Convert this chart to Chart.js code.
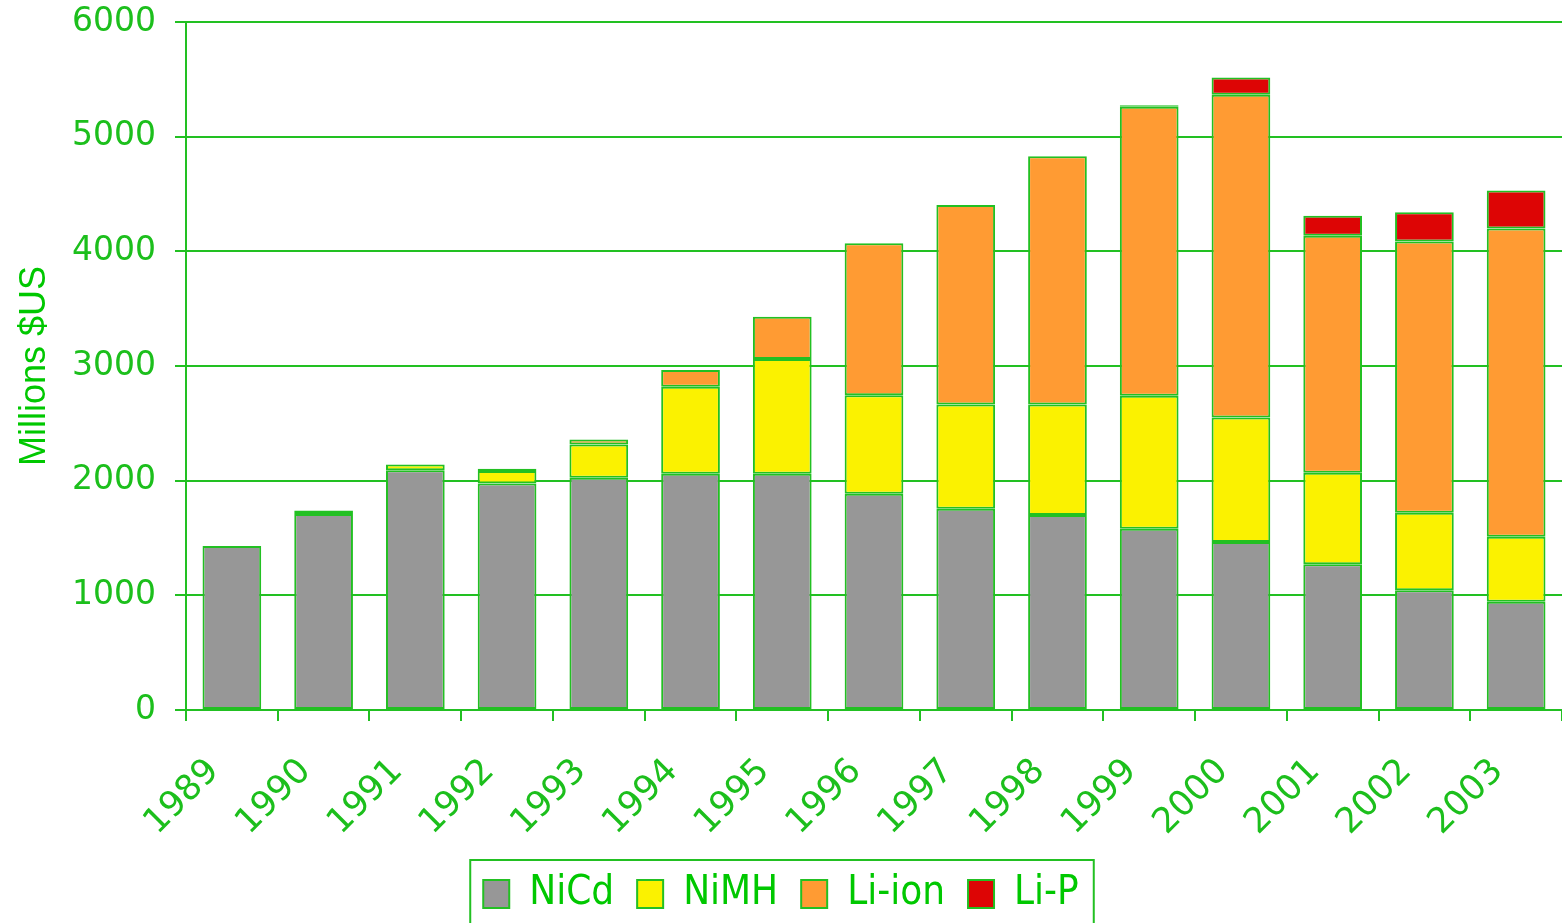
<!DOCTYPE html>
<html>
<head>
<meta charset="utf-8">
<title>Battery market 1989-2003</title>
<script src="https://cdn.jsdelivr.net/npm/chart.js@4"></script>
<style>
  html, body { margin: 0; padding: 0; background: #fff; }
  #wrap { width: 1562px; height: 923px; }
</style>
</head>
<body>
<div id="wrap"><canvas id="grafico"></canvas></div>
<script>
// dados (milhões de US$)
const anos = ['1989', '1990', '1991', '1992', '1993', '1994', '1995', '1996', '1997', '1998', '1999', '2000', '2001', '2002', '2003'];
const nicd = [1430, 1710, 2090, 1975, 2025, 2060, 2060, 1885, 1755, 1700, 1580, 1465, 1270, 1045, 945];
const nimh = [null, 30, 50, 110, 290, 760, 1000, 860, 910, 965, 1160, 1085, 800, 675, 565];
const liion = [null, null, null, 20, 45, 145, 370, 1325, 1740, 2165, 2520, 2815, 2065, 2365, 2690];
const lip = [null, null, null, null, null, null, null, null, null, null, 15, 150, 175, 255, 330];
const yTicks = [0, 1000, 2000, 3000, 4000, 5000, 6000];

const verde = '#22c022';
const verdeTexto = '#1cbf1c';

// moldura da legenda
const bordaLegenda = {
    id: 'bordaLegenda',
    afterDraw(chart) {
        const boxes = chart.legend.legendHitBoxes;
        if (!boxes || !boxes.length) return;
        const left = Math.min(...boxes.map(b => b.left)) - 13;
        const right = Math.max(...boxes.map(b => b.left + b.width)) + 15;
        const top = boxes[0].top - 14;
        const ctx = chart.ctx;
        ctx.save();
        ctx.strokeStyle = verde;
        ctx.lineWidth = 2;
        ctx.strokeRect(left, top, right - left, chart.height - top + 10);
        ctx.restore();
    }
};

function serie(label, data, cor) {
    return {
        label: label,
        data: data,
        backgroundColor: cor,
        borderColor: verde,
        borderWidth: 2,
        borderSkipped: false,
        categoryPercentage: 1,
        barPercentage: 0.64
    };
}

const ctx = document.getElementById('grafico').getContext('2d');
new Chart(ctx, {
    type: 'bar',
    data: {
        labels: anos,
        datasets: [
            serie('NiCd', nicd, '#979797'),
            serie('NiMH', nimh, '#fbf200'),
            serie('Li-ion', liion, '#ff9b33'),
            serie('Li-P', lip, '#dd0505')
        ]
    },
    options: {
        responsive: true,
        maintainAspectRatio: false,
        animation: false,
        layout: { padding: { top: 2, right: 0, bottom: -1, left: 0 } },
        plugins: {
            tooltip: { enabled: false },
            legend: {
                position: 'bottom',
                labels: {
                    color: '#00c800',
                    font: { family: '"Liberation Sans Narrow", "DejaVu Sans Condensed", "Liberation Sans", sans-serif', size: 40 },
                    boxWidth: 26,
                    boxHeight: 28,
                    padding: 23
                }
            }
        },
        scales: {
            x: {
                stacked: true,
                afterFit(s) { s.height = 141; s.paddingLeft = 0; s.paddingRight = 0; },
                grid: {
                    drawOnChartArea: false,
                    drawTicks: true,
                    tickLength: 11,
                    color: verde,
                    lineWidth: 2
                },
                border: { color: verde, width: 2 },
                ticks: {
                    color: verdeTexto,
                    font: { family: 'DejaVu Sans', size: 35 },
                    minRotation: 45,
                    maxRotation: 45,
                    padding: 30,
                    labelOffset: -18
                }
            },
            y: {
                stacked: true,
                min: 0,
                max: 6000,
                afterFit(s) { s.width = 186; s.paddingTop = 22; },
                afterBuildTicks(s) { s.ticks = yTicks.map(v => ({ value: v })); },
                grid: {
                    color: verde,
                    lineWidth: 2,
                    tickLength: 11
                },
                border: { color: verde, width: 2 },
                ticks: {
                    color: verdeTexto,
                    font: { family: 'DejaVu Sans', size: 33 },
                    padding: 19,
                    callback: v => String(v)
                },
                title: {
                    display: true,
                    text: 'Millions $US',
                    color: '#00c800',
                    font: { family: 'Liberation Sans', size: 36 },
                    padding: { top: 13, bottom: 0 }
                }
            }
        }
    },
    plugins: [bordaLegenda]
});
</script>
</body>
</html>
